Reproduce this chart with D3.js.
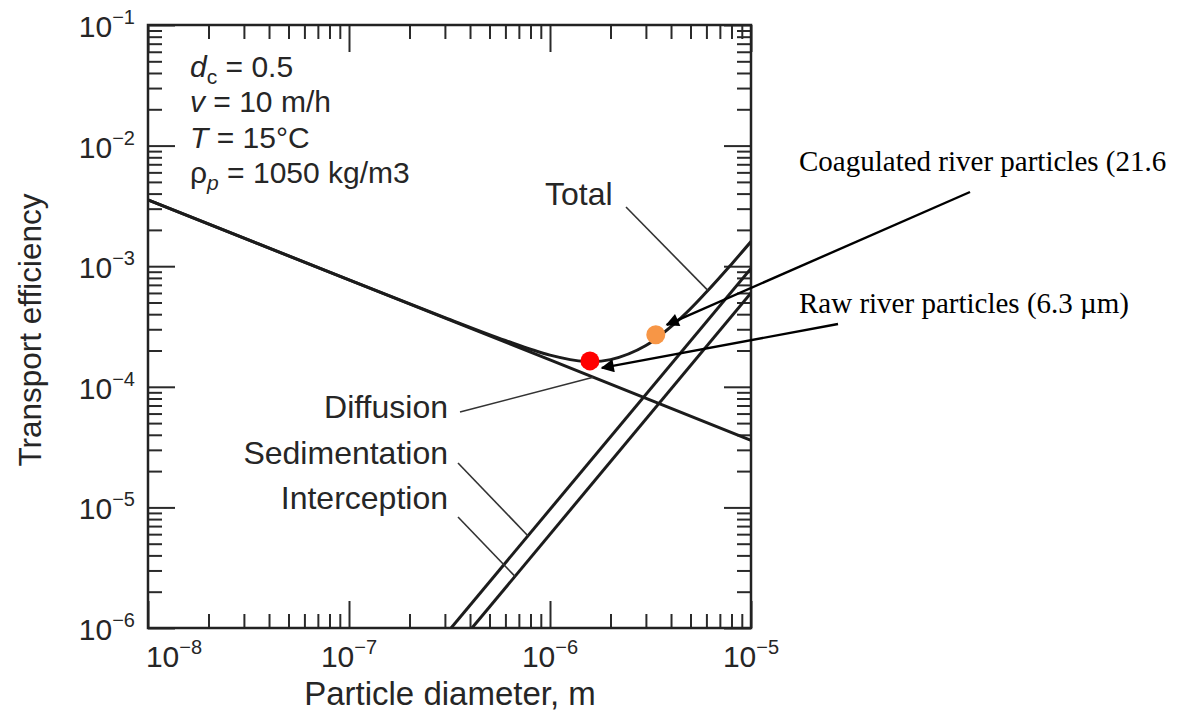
<!DOCTYPE html>
<html>
<head>
<meta charset="UTF-8">
<title>Transport efficiency vs particle diameter</title>
<style>
  body { margin: 0; background: #fff; }
  svg text { font-family: "Liberation Sans", Arial, Helvetica, sans-serif; fill: #262626; }
  svg text.note { font-family: "Liberation Serif", "Times New Roman", serif; fill: #000; }
  .tick line { stroke: #2a2a2a; stroke-width: 2px; }
</style>
</head>
<body>
<svg width="1179" height="722"></svg>
<script src="https://d3js.org/d3.v7.min.js"></script>
<script>

    // values (particle diameter in m, efficiency)
    var diffDiam = [1e-8, 1e-7, 1e-6, 1e-5];
    var diffusion = [3.55e-3, 7.7e-4, 1.67e-4, 3.6e-5];

    var sedDiam = [3.22e-7, 1e-5];
    var sedimentation = [1e-6, 9.6e-4];

    var intDiam = [4.09e-7, 1e-5];
    var interception = [1e-6, 6.0e-4];

    var totalDiam = [1e-8, 1e-7, 3e-7, 6e-7, 1e-6, 1.5e-6, 2e-6, 3e-6, 4.5e-6, 6e-6, 8e-6, 1e-5];
    var total = [3.55e-3, 7.7e-4, 3.75e-4, 2.42e-4, 1.83e-4, 1.62e-4, 1.68e-4, 2.2e-4, 3.75e-4, 6.1e-4, 1.04e-3, 1.6e-3];

    var xTicks = [1e-8, 1e-7, 1e-6, 1e-5];
    var xTickExp = ["\u22128", "\u22127", "\u22126", "\u22125"];
    var yTicks = [1e-1, 1e-2, 1e-3, 1e-4, 1e-5, 1e-6];
    var yTickExp = ["\u22121", "\u22122", "\u22123", "\u22124", "\u22125", "\u22126"];

    var markDiam = [1.58e-6, 3.36e-6];
    var markEta = [1.64e-4, 2.7e-4];
    var markColor = ["#ff0000", "#f79646"];
    var markNote = ["Raw river particles (6.3 \u00b5m)", "Coagulated river particles (21.6"];

    var svg = d3.select("svg");

    var pLeft = 148, pRight = 751, pTop = 25, pBottom = 628;

    var x = d3.scaleLog().domain([1e-8, 1e-5]).range([pLeft, pRight]);
    var y = d3.scaleLog().domain([1e-6, 1e-1]).range([pBottom, pTop]);

    function minors(lo, hi) {
        var out = [];
        for (var e = lo; e < hi; e++) {
            for (var k = 2; k <= 9; k++) out.push(k * Math.pow(10, e));
        }
        return out;
    }
    var xMinor = minors(-8, -5), yMinor = minors(-6, -1);

    var defs = svg.append("defs");
    defs.append("clipPath").attr("id", "plot")
        .append("rect").attr("x", pLeft).attr("y", pTop)
        .attr("width", pRight - pLeft).attr("height", pBottom - pTop);

    defs.append("marker")
        .attr("id", "head")
        .attr("viewBox", "0 0 10 10")
        .attr("refX", 9).attr("refY", 5)
        .attr("markerWidth", 7).attr("markerHeight", 5.5)
        .attr("markerUnits", "strokeWidth")
        .attr("orient", "auto")
        .append("path").attr("d", "M0,0L10,5L0,10Z").attr("fill", "#000");

    // ticks on all four sides, pointing in
    function ticks(axis, where, values, size) {
        var g = svg.append("g")
            .attr("transform", where)
            .call(axis.tickValues(values).tickSize(-size).tickFormat(""));
        g.select(".domain").remove();
    }
    ticks(d3.axisBottom(x), "translate(0," + pBottom + ")", xMinor, 14);
    ticks(d3.axisBottom(x), "translate(0," + pBottom + ")", xTicks, 27);
    ticks(d3.axisTop(x), "translate(0," + pTop + ")", xMinor, 14);
    ticks(d3.axisTop(x), "translate(0," + pTop + ")", xTicks, 27);
    ticks(d3.axisLeft(y), "translate(" + pLeft + ",0)", yMinor, 14);
    ticks(d3.axisLeft(y), "translate(" + pLeft + ",0)", yTicks, 27);
    ticks(d3.axisRight(y), "translate(" + pRight + ",0)", yMinor, 14);
    ticks(d3.axisRight(y), "translate(" + pRight + ",0)", yTicks, 27);

    svg.append("rect")
        .attr("x", pLeft).attr("y", pTop)
        .attr("width", pRight - pLeft).attr("height", pBottom - pTop)
        .attr("fill", "none").attr("stroke", "#222").attr("stroke-width", 2.5);

    // tick labels with superscripts
    var xl = svg.append("g").selectAll("text")
        .data(xTicks).enter().append("text")
        .attr("x", function(d, i) { return x(d) + (i === 0 ? 26 : 0); })
        .attr("y", 667)
        .attr("text-anchor", "middle");
    xl.append("tspan").attr("font-size", 30).text("10");
    xl.append("tspan").attr("font-size", 20).attr("dy", -13)
        .text(function(d, i) { return xTickExp[i]; });

    var yl = svg.append("g").selectAll("text")
        .data(yTicks).enter().append("text")
        .attr("x", 135)
        .attr("y", function(d) { return y(d) + 12; })
        .attr("text-anchor", "end");
    yl.append("tspan").attr("font-size", 30).text("10");
    yl.append("tspan").attr("font-size", 20).attr("dy", -13)
        .text(function(d, i) { return yTickExp[i]; });

    svg.append("text")
        .attr("x", 450).attr("y", 705)
        .attr("text-anchor", "middle")
        .attr("font-size", 33)
        .text("Particle diameter, m");

    svg.append("text")
        .attr("transform", "translate(41,330) rotate(-90)")
        .attr("text-anchor", "middle")
        .attr("font-size", 31.5)
        .text("Transport efficiency");

    // curves
    var line = d3.line()
        .x(function(d) { return x(d[0]); })
        .y(function(d) { return y(d[1]); });
    var curvy = d3.line()
        .x(function(d) { return x(d[0]); })
        .y(function(d) { return y(d[1]); })
        .curve(d3.curveCatmullRom.alpha(0.5));

    var plot = svg.append("g").attr("clip-path", "url(#plot)")
        .attr("fill", "none").attr("stroke", "#1c1c1c").attr("stroke-width", 3);

    plot.append("path").attr("d", line(d3.zip(diffDiam, diffusion)));
    plot.append("path").attr("d", line(d3.zip(sedDiam, sedimentation)));
    plot.append("path").attr("d", line(d3.zip(intDiam, interception)));
    plot.append("path").attr("d", curvy(d3.zip(totalDiam, total)));

    // curve labels and leaders
    var labels = [
        {text: "Total", x: 545, y: 205, anchor: "start", from: [626, 207], to: [6.1e-6, 6.3e-4]},
        {text: "Diffusion", x: 448, y: 418, anchor: "end", from: [460, 412], to: [1.64e-6, 1.2e-4]},
        {text: "Sedimentation", x: 448, y: 464, anchor: "end", from: [458, 463], to: [7.78e-7, 5.8e-6]},
        {text: "Interception", x: 448, y: 509, anchor: "end", from: [458, 517], to: [6.7e-7, 2.68e-6]}
    ];
    labels.forEach(function(l) {
        svg.append("text")
            .attr("x", l.x).attr("y", l.y)
            .attr("text-anchor", l.anchor)
            .attr("font-size", 32)
            .text(l.text);
        svg.append("line")
            .attr("x1", l.from[0]).attr("y1", l.from[1])
            .attr("x2", x(l.to[0])).attr("y2", y(l.to[1]))
            .attr("stroke", "#333").attr("stroke-width", 1.6);
    });

    // parameter block
    var params = svg.append("g").attr("font-size", 30);
    var p1 = params.append("text").attr("x", 190).attr("y", 77);
    p1.append("tspan").attr("font-style", "italic").text("d");
    p1.append("tspan").attr("font-size", 21).attr("dy", 7).text("c");
    p1.append("tspan").attr("dy", -7).text(" = 0.5");
    var p2 = params.append("text").attr("x", 190).attr("y", 112);
    p2.append("tspan").attr("font-style", "italic").text("v");
    p2.append("tspan").text(" = 10 m/h");
    var p3 = params.append("text").attr("x", 190).attr("y", 148);
    p3.append("tspan").attr("font-style", "italic").text("T");
    p3.append("tspan").text(" = 15\u00b0C");
    var p4 = params.append("text").attr("x", 190).attr("y", 183);
    p4.append("tspan").text("\u03c1");
    p4.append("tspan").attr("font-size", 21).attr("font-style", "italic").attr("dy", 7).text("p");
    p4.append("tspan").attr("dy", -7).text(" = 1050 kg/m3");

    // highlighted particles with arrows
    var notePos = [[799, 313], [799, 171]];
    var tails = [[838, 324], [970, 192]];
    var tipOffset = [[12, 7], [11, -10]];

    svg.append("g").selectAll("line")
        .data(markDiam).enter().append("line")
        .attr("x1", function(d, i) { return tails[i][0]; })
        .attr("y1", function(d, i) { return tails[i][1]; })
        .attr("x2", function(d, i) { return x(d) + tipOffset[i][0]; })
        .attr("y2", function(d, i) { return y(markEta[i]) + tipOffset[i][1]; })
        .attr("stroke", "#000").attr("stroke-width", 2.4)
        .attr("marker-end", "url(#head)");

    svg.append("g").selectAll("circle")
        .data(markDiam).enter().append("circle")
        .attr("cx", function(d) { return x(d); })
        .attr("cy", function(d, i) { return y(markEta[i]); })
        .attr("r", 9.5)
        .attr("fill", function(d, i) { return markColor[i]; });

    svg.append("g").selectAll("text")
        .data(markNote).enter().append("text")
        .attr("class", "note")
        .attr("x", function(d, i) { return notePos[i][0]; })
        .attr("y", function(d, i) { return notePos[i][1]; })
        .attr("font-size", 29)
        .text(function(d) { return d; });

</script>
</body>
</html>
